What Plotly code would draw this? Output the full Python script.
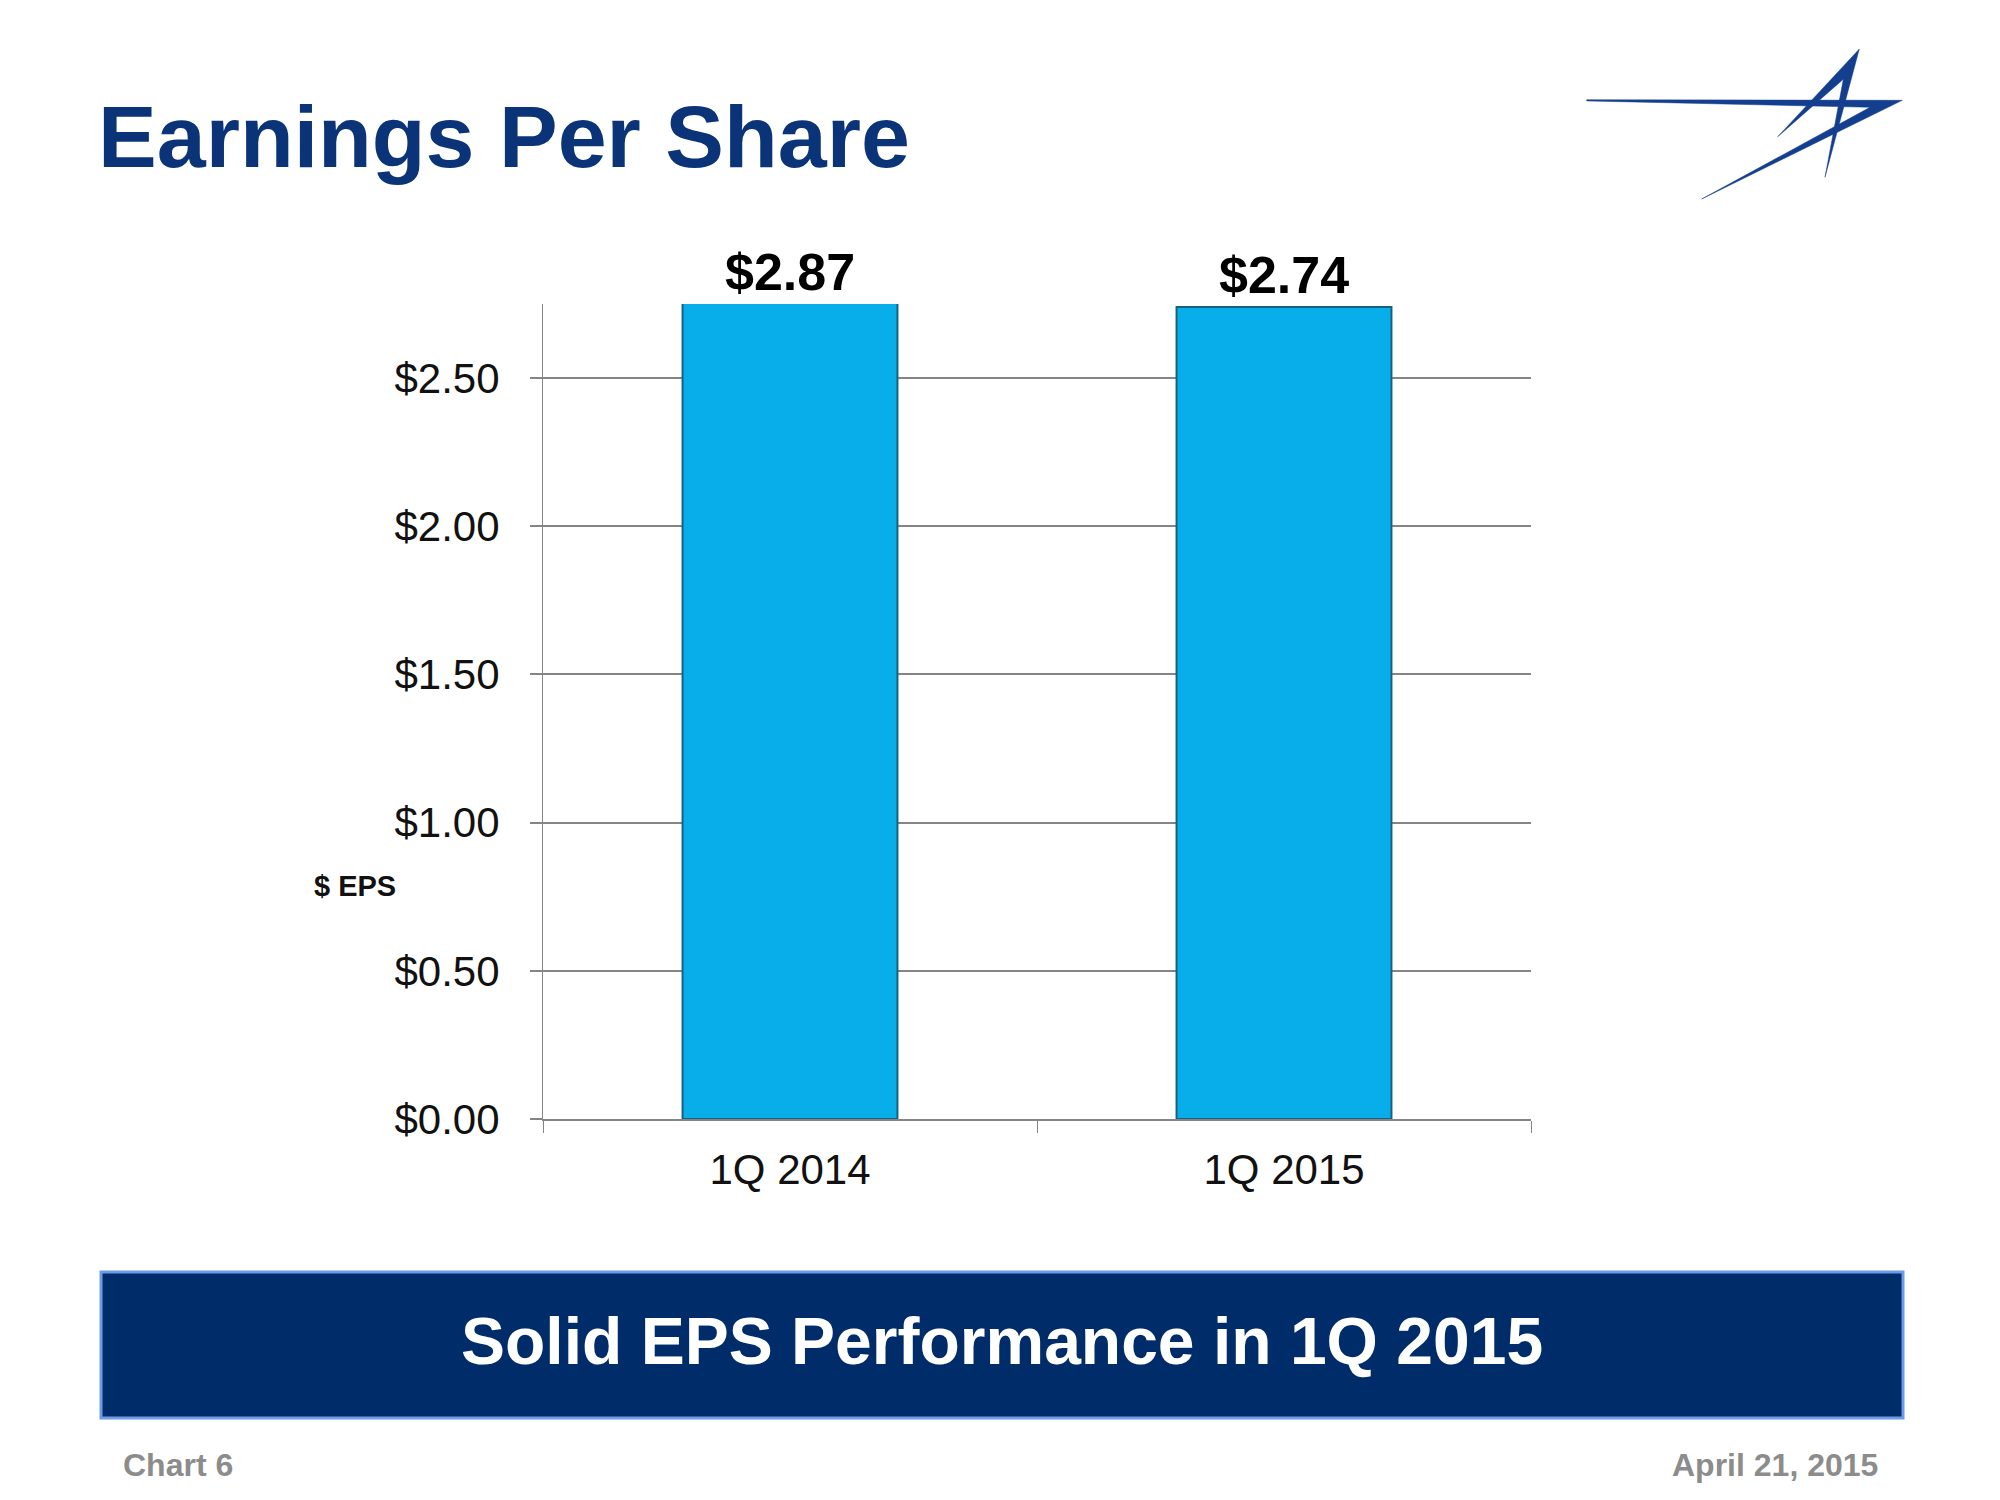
import plotly.graph_objects as go

# ---- data ----
categories = ["1Q 2014", "1Q 2015"]
eps_values = [2.87, 2.74]
eps_labels = ["$2.87", "$2.74"]
y_ticks = [0.0, 0.5, 1.0, 1.5, 2.0, 2.5]
y_tick_labels = ["$0.00", "$0.50", "$1.00", "$1.50", "$2.00", "$2.50"]
y_max = 2.75

title_text = "Earnings Per Share"
banner_text = "Solid EPS Performance in 1Q 2015"
axis_title = "$ EPS"
footer_left = "Chart 6"
footer_right = "April 21, 2015"

# ---- layout geometry (screen pixels) ----
W, H = 2000, 1500
OFF = 8  # page body margin
L, R, T, B = 543 - OFF, 1531 - OFF, 304 - OFF, 1119 - OFF
FONT = "Liberation Sans, Arial, sans-serif"
NAVY = "#0B3478"
GRID = "#858585"


def px(x, y):
    x -= OFF
    y -= OFF
    return (x - L) / (R - L), (B - y) / (B - T)


def path(points):
    s = ""
    for i, (x, y) in enumerate(points):
        u, v = px(x, y)
        s += ("M" if i == 0 else "L") + f"{u:.5f},{v:.5f} "
    return s + "Z"


fig = go.Figure()
fig.add_trace(go.Bar(
    x=categories, y=eps_values,
    marker=dict(color="#07AEEA", line=dict(color="#17607F", width=2)),
    hoverinfo="skip",
))

annotations = []
for c, v, t in zip(categories, eps_values, eps_labels):
    annotations.append(dict(
        x=c, y=min(v, y_max), xref="x", yref="y", text=f"<b>{t}</b>",
        showarrow=False, yanchor="bottom", yshift=1,
        font=dict(family=FONT, size=52, color="#000000"),
    ))

# title
tx, ty = px(96, 136)
annotations.append(dict(x=tx, y=ty, xref="paper", yref="paper", xanchor="left", yanchor="middle",
                        text=f"<b>{title_text}</b>", showarrow=False,
                        font=dict(family=FONT, size=88, color=NAVY)))
# y axis title
ax, ay = px(312, 886)
annotations.append(dict(x=ax, y=ay, xref="paper", yref="paper", xanchor="left", yanchor="middle",
                        text=f"<b>{axis_title}</b>", showarrow=False,
                        font=dict(family=FONT, size=29, color="#111111")))
# banner text
bx, by = px(1002, 1341)
annotations.append(dict(x=bx, y=by, xref="paper", yref="paper", xanchor="center", yanchor="middle",
                        text=f"<b>{banner_text}</b>", showarrow=False,
                        font=dict(family=FONT, size=66, color="#FFFFFF")))
# footers
fx, fy = px(121, 1465)
annotations.append(dict(x=fx, y=fy, xref="paper", yref="paper", xanchor="left", yanchor="middle",
                        text=f"<b>{footer_left}</b>", showarrow=False,
                        font=dict(family=FONT, size=32, color="#8C8C8C")))
fx, fy = px(1880, 1465)
annotations.append(dict(x=fx, y=fy, xref="paper", yref="paper", xanchor="right", yanchor="middle",
                        text=f"<b>{footer_right}</b>", showarrow=False,
                        font=dict(family=FONT, size=32, color="#8C8C8C")))

shapes = []
# banner
x0, y0 = px(101, 1418)
x1, y1 = px(1903, 1272)
shapes.append(dict(type="rect", xref="paper", yref="paper", x0=x0, y0=y0, x1=x1, y1=y1,
                   fillcolor="#002C6A", line=dict(color="#6E9BE6", width=3), layer="above"))
# logo
LOGO = "#143F8E"
chevron = [(1586.7, 99.7), (1902.3, 100.3), (1701.7, 199.0), (1870.0, 107.3), (1586.7, 100.9)]
a_shape = [(1859.3, 49.0), (1777.7, 136.7), (1843.3, 79.3), (1825.0, 177.3)]
for pts in (chevron, a_shape):
    shapes.append(dict(type="path", xref="paper", yref="paper", path=path(pts),
                       fillcolor=LOGO, line=dict(color=LOGO, width=0.5), layer="above"))

fig.update_layout(
    width=W, height=H,
    margin=dict(l=L, r=W - R, t=T, b=H - B, pad=0),
    paper_bgcolor="white", plot_bgcolor="white",
    showlegend=False, bargap=0.565,
    font=dict(family=FONT, color="#111111"),
    annotations=annotations, shapes=shapes,
    xaxis=dict(
        showline=True, linecolor=GRID, linewidth=2,
        ticks="outside", tickson="boundaries", ticklen=12, tickcolor=GRID, tickwidth=1,
        tickfont=dict(family=FONT, size=42, color="#111111"),
        showgrid=False, ticklabelstandoff=13, fixedrange=True,
    ),
    yaxis=dict(
        range=[0, y_max], tickvals=y_ticks, ticktext=y_tick_labels,
        showline=True, linecolor=GRID, linewidth=1,
        ticks="outside", ticklen=12, tickcolor=GRID, tickwidth=2,
        showgrid=True, gridcolor=GRID, gridwidth=2, zeroline=False,
        tickfont=dict(family=FONT, size=42, color="#111111"),
        ticklabelstandoff=22, fixedrange=True,
    ),
)

fig.write_html("out.html")
